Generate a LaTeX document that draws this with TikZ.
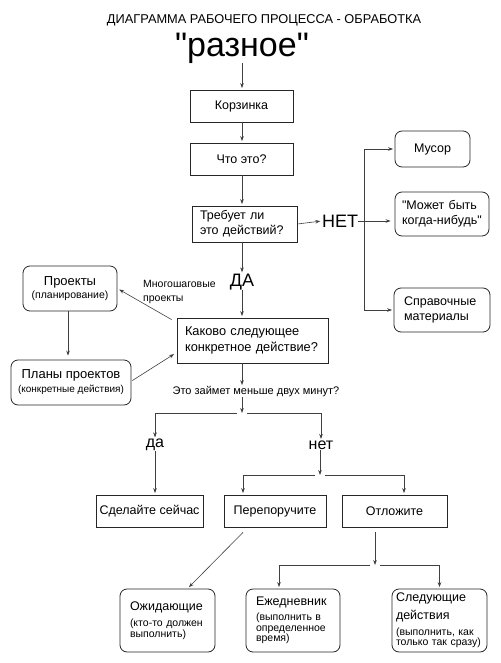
\documentclass[tikz,border=0pt]{standalone}
\usepackage{fontspec}
\setmainfont{Liberation Sans}
\newfontfamily\plainf{Liberation Sans}
\usetikzlibrary{arrows.meta,calc}
\newcommand\bigf{\fontsize{12.5}{15}\selectfont}
\newcommand\smf{\fontsize{10.5}{10.5}\selectfont}
\newcommand\dq{{\plainf\symbol{34}}}
\begin{document}
\begin{tikzpicture}[x=1pt,y=-1pt,
  box/.style={draw=black!85, line width=0.8pt, inner ysep=0pt, font=\bigf},
  rbox/.style={box, rounded corners=7pt},
  arr/.style={-{Stealth[length=5pt,width=3.6pt]}, line width=0.6pt, draw=black!75, shorten >=1.5pt},
  ln/.style={line width=0.6pt, draw=black!75},
  lbl/.style={inner sep=0pt}]
\useasboundingbox (0,0) rectangle (500,663);
\coordinate (cx) at (242,0);
\coordinate (vx) at (364,0);
\coordinate (j1) at (242,413);
\coordinate (j2) at (320,475);
\coordinate (j3) at (375,565);

\node[lbl, font=\fontsize{12.8}{14}\selectfont] (title) at (264,20) {ДИАГРАММА РАБОЧЕГО ПРОЦЕССА - ОБРАБОТКА};
\node[lbl, font=\fontsize{34}{34}\selectfont] (razn) at (242,48) {\dq разное\dq};

\node[box, minimum width=103pt, minimum height=32pt, align=center] (korz) at (241.5,106) {Корзинка};
\node[box, minimum width=103pt, minimum height=32pt, align=center] (chto) at (241.5,159) {Что это?};
\node[box, minimum height=36pt, inner xsep=8pt, text width=89pt, align=left] (treb) at (244.5,224) {Требует ли\\это действий?};
\node[lbl, font=\fontsize{18}{18}\selectfont] (net) at (340,221) {НЕТ};
\node[rbox, minimum width=75pt, minimum height=36pt, align=center] (musor) at (432.5,149) {Мусор};
\node[rbox, minimum height=44pt, inner xsep=7pt, text width=80pt, align=left] (mozhet) at (442,214) {\dq Может быть\\когда-нибудь\dq};
\node[rbox, minimum height=44pt, inner xsep=10pt, text width=76pt, align=left] (sprav) at (442,310) {Справочные\\материалы};
\node[lbl, font=\fontsize{18}{18}\selectfont] (da) at (242,282) {ДА};
\node[box, minimum height=45pt, inner xsep=8pt, text width=135pt, align=left, font=\fontsize{12.8}{16}\selectfont] (kak) at (252.5,340.5) {Каково следующее\\конкретное действие?};
\node[rbox, minimum width=94pt, minimum height=45pt, align=center, font=\smf] (proekty) at (70,288.5) {{\fontsize{13}{13}\selectfont Проекты}\\[2.5pt](планирование)};
\node[rbox, minimum width=120pt, minimum height=45pt, align=center, font=\fontsize{10}{10}\selectfont] (plany) at (71,382.5) {{\fontsize{13}{13}\selectfont Планы проектов}\\[3pt](конкретные действия)};
\node[lbl, align=left, font=\fontsize{10.5}{14}\selectfont, anchor=west] (mnogo) at (143,292) {Многошаговые\\проекты};
\node[lbl, font=\fontsize{11}{11}\selectfont] (eto) at (256,392) {Это займет меньше двух минут?};
\node[lbl, font=\fontsize{16}{16}\selectfont] (dasm) at (155,445) {да};
\node[lbl, font=\fontsize{16}{16}\selectfont] (netsm) at (321,445) {нет};
\node[box, minimum width=107pt, minimum height=32pt, align=center] (sdel) at (149.5,511) {Сделайте сейчас};
\node[box, minimum width=102pt, minimum height=32pt, align=center] (perep) at (275,511) {Перепоручите};
\node[box, minimum width=105pt, minimum height=32pt, align=center] (otlozh) at (394.5,511) {Отложите};
\node[rbox, minimum height=63pt, inner xsep=10pt, text width=75pt, align=left, font=\smf] (ozhid) at (167.5,620.5) {{\bigf Ожидающие}\\[5.5pt](кто-то должен\\выполнить)};
\node[rbox, minimum height=63pt, inner xsep=10pt, text width=74pt, align=left, font=\smf] (ezhed) at (293,620.5) {{\bigf Ежедневник}\\[4.5pt](выполнить в\\определенное\\время)};
\node[rbox, minimum height=63pt, inner xsep=4pt, text width=87pt, align=left, font=\smf] (sled) at (439.5,620.5) {{\bigf Следующие}\\[4.5pt]{\bigf действия}\\[5.5pt](выполнить, как\\только так сразу)};

% connectors
\draw[arr] (razn.south -| cx) -- (korz.north -| cx);
\draw[arr] (korz.south -| cx) -- (chto.north -| cx);
\draw[arr] (chto.south -| cx) -- (treb.north -| cx);
\draw[arr] (treb.south -| cx) -- (da.north -| cx);
\draw[arr] (da.south -| cx) -- (kak.north -| cx);
\draw[arr] (treb.east) -- (net.west);
\draw[arr, shorten >=4pt] (net.east) -- (net.east -| mozhet.west);
\draw[ln] (musor.west -| vx) -- (sprav.west -| vx);
\draw[arr] (musor.west -| vx) -- (musor.west);
\draw[arr] (sprav.west -| vx) -- (sprav.west);
\draw[arr, shorten >=2pt] ([shift={(-5pt,-2pt)}]kak.north west) -- (proekty.east);
\draw[arr, shorten >=4pt] ([xshift=-2pt]proekty.south) -- ([xshift=-2pt]proekty.south |- plany.north);
\draw[arr, shorten >=3pt] ([shift={(1pt,2pt)}]plany.east) -- ([shift={(0pt,-12pt)}]kak.west);
\draw[arr] (kak.south -| cx) -- (eto.north -| cx);
\draw[arr, shorten >=0pt] (eto.south -| cx) -- (j1);
\draw[arr] ([xshift=-5pt]j1) -| (dasm.north);
\draw[arr] ([xshift=5pt]j1) -| (netsm.north);
\draw[arr] (dasm.south) -- (dasm.south |- sdel.north);
\draw[arr, shorten >=0pt] (netsm.south -| j2) -- (j2);
\draw[arr] ([xshift=-5pt]j2) -| ([xshift=-32pt]perep.north);
\draw[arr] ([xshift=5pt]j2) -| ([xshift=9.5pt]otlozh.north);
\draw[arr, shorten >=2pt] ([shift={(-32pt,-5pt)}]perep.south) -- ([xshift=20pt]ozhid.north);
\draw[arr, shorten >=0pt] ([shift={(-19.5pt,-5pt)}]otlozh.south) -- (j3);
\draw[arr] ([xshift=-5pt]j3) -| ([xshift=-14pt]ezhed.north);
\draw[arr] ([xshift=5pt]j3) -| (sled.north);
\end{tikzpicture}
\end{document}
